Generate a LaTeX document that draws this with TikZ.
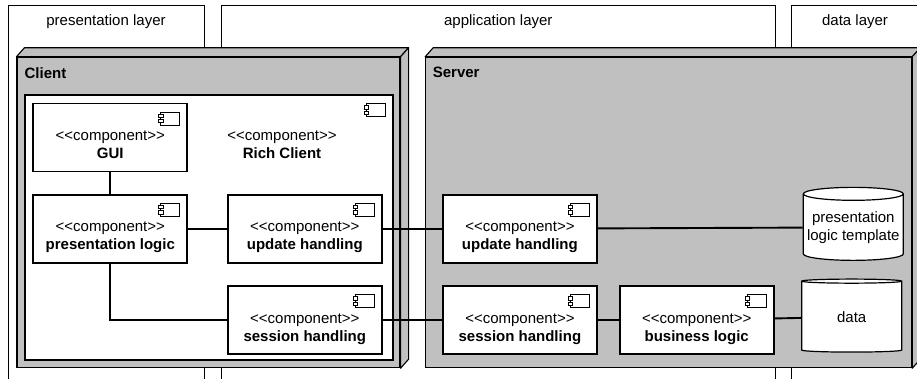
\documentclass[tikz,border=0pt]{standalone}
\usepackage{fontspec}
\setmainfont{Liberation Sans}[Ligatures=TeXOff]
\usetikzlibrary{shapes.geometric, positioning}
\definecolor{devgray}{HTML}{C0C0C0}
\tikzstyle{layer} = [draw=black, line width=0.9pt]
\tikzstyle{device} = [rectangle, draw=black, line width=1.1pt, fill=devgray, inner sep=0pt]
\tikzstyle{devside} = [draw=black, line width=1.1pt, fill=devgray, line join=round]
\tikzstyle{comp} = [rectangle, draw=black, line width=1.8pt, fill=white, minimum width=154pt, minimum height=68pt, inner sep=0pt, align=center]
\tikzstyle{db} = [cylinder, shape border rotate=90, aspect=0.14, draw=black, line width=1.2pt, fill=white, minimum width=100pt, minimum height=73pt, inner sep=0pt, align=center]
\tikzstyle{icon} = [draw=black, line width=0.8pt, fill=white]
\tikzstyle{link} = [line width=1.9pt]
\tikzstyle{devlabel} = [anchor=west, inner sep=0pt, font=\fontsize{15}{18}\selectfont\bfseries]

\newcommand{\comptext}[1]{\rule{0pt}{28pt}<<component>>\\\rule[-4pt]{0pt}{4pt}\textbf{#1}}
\newcommand{\compicon}[1]{%
  \draw[icon] ([shift={(-27.6,9.4)}]#1.north east) rectangle ++(19,13);
  \draw[icon] ([shift={(-29.6,11.7)}]#1.north east) rectangle ++(4.3,3.3);
  \draw[icon] ([shift={(-29.6,17)}]#1.north east) rectangle ++(4.3,3.3);
}

\begin{document}
\begin{tikzpicture}[x=1pt, y=-1pt, every node/.style={font=\fontsize{15}{18}\selectfont}]
  \useasboundingbox (0,0) rectangle (917,378);

  % layers
  \draw[layer] (8,390) |- (204,5) -- (204,390);
  \draw[layer] (221,390) |- (775.7,5) -- (775.7,390);
  \draw[layer] (791.7,390) |- (930,5);
  \node (presLayer) at (106,22) {presentation layer};
  \node (appLayer) at (498.3,22) {application layer};
  \node (dataLayer) at (855,22) {data layer};

  % devices
  \node[device, minimum width=383pt, minimum height=310.4pt] (client) at (208.5,212.5) {};
  \node[device, minimum width=486pt, minimum height=310.4pt] (server) at (668.7,212.5) {};
  \foreach \d in {client, server} {
    \draw[devside] (\d.north west) -- ++(8,-9) -- ([shift={(8,-9)}]\d.north east) -- (\d.north east) -- cycle;
    \draw[devside] (\d.north east) -- ++(8,-9) -- ([shift={(8,-9)}]\d.south east) -- (\d.south east) -- cycle;
  }
  \node[devlabel] (clientLbl) at ([shift={(8,16)}]client.north west) {Client};
  \node[devlabel] (serverLbl) at ([shift={(7.5,16)}]server.north west) {Server};

  % components
  \node[comp, minimum width=368pt, minimum height=265pt] (richC) at (209.2,227.5) {};
  \node[inner sep=0pt, align=center] (richTxt) at (282,137.4) {\comptext{Rich Client}};
  \node[comp] (guiC) at (110.3,137.4) {\comptext{GUI}};
  \node[comp, below=21.5pt of guiC] (presC) {\comptext{presentation logic}};
  \node[comp, right=38.7pt of presC] (updC) {\comptext{update handling}};
  \node[comp, below=21.5pt of updC] (sessC) {\comptext{session handling}};
  \node[comp, right=59.3pt of updC] (updS) {\comptext{update handling}};
  \node[comp, below=21.5pt of updS] (sessS) {\comptext{session handling}};
  \node[comp, right=21pt of sessS] (busS) {\comptext{business logic}};
  \foreach \n in {richC, guiC, presC, updC, sessC, updS, sessS, busS} {\compicon{\n}}

  \node[db] (tplDb) at (853.3,227.4) {presentation\\logic template};
  \node[db] (dataDb) at (851.7,316.9) {data};

  \draw[link] (guiC) -- (presC);
  \draw[link] (presC) -- (updC);
  \draw[link] (presC.south) |- (sessC.west);
  \draw[link] (updC) -- (updS);
  \draw[link] (sessC) -- (sessS);
  \draw[link] (updS) -- (tplDb);
  \draw[link] (sessS) -- (busS);
  \draw[link] (busS) -- (dataDb);
\end{tikzpicture}
\end{document}
